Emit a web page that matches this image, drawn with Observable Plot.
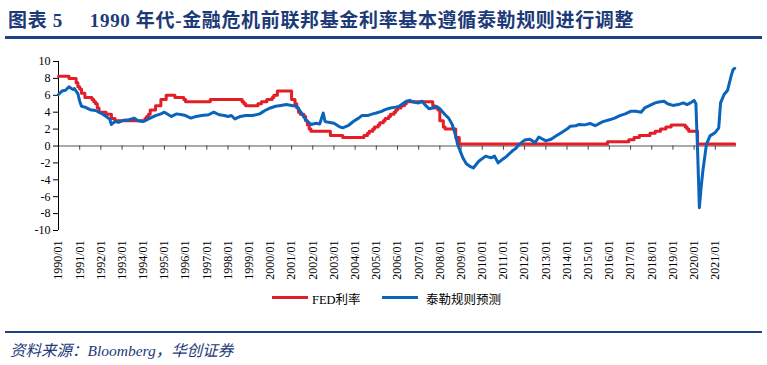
<!DOCTYPE html>
<html>
<head>
<meta charset="utf-8">
<script src="https://cdn.jsdelivr.net/npm/d3@7"></script>
<script src="https://cdn.jsdelivr.net/npm/@observablehq/plot@0.6"></script>
<style>
  body { margin: 0; background: #fff; }
  #wrap { position: relative; width: 767px; height: 365px; overflow: hidden; }
  #title { position: absolute; left: 8px; top: 5px; font-family: "Liberation Serif", "Noto Sans CJK SC", serif; font-weight: bold; font-size: 19px; color: #1c3a78; white-space: nowrap; letter-spacing: 0.65px; }
  #title .gap { display: inline-block; width: 27px; }
  .rule { position: absolute; left: 5px; right: 5px; background: #1f4283; }
  #chart { position: absolute; left: 0; top: 40px; }
  #legend { position: absolute; top: 289px; left: 0; width: 767px; height: 18px; font-family: "Liberation Serif", "Noto Sans CJK SC", serif; font-size: 12.5px; color: #000; }
  .sw { position: absolute; top: 7px; width: 36px; height: 3px; }
  .lt { position: absolute; top: 0; white-space: nowrap; }
  #source { position: absolute; left: 10px; top: 338px; font-family: "Liberation Serif", "Noto Sans CJK SC", serif; font-style: italic; font-size: 15.5px; color: #1c3a78; white-space: nowrap; }
</style>
</head>
<body>
<div id="wrap">
  <div id="title">图表 5<span class="gap"></span>1990 年代-金融危机前联邦基金利率基本遵循泰勒规则进行调整</div>
  <div class="rule" style="top:36px;height:3px"></div>
  <div id="chart"></div>
  <div id="legend"></div>
  <div class="rule" style="top:331px;height:2px"></div>
  <div id="source">资料来源：Bloomberg，华创证券</div>
</div>
<script>
// ---- Data ----
const seriesNames = ["FED利率", "泰勒规则预测"];
const seriesColors = ["#e41e26", "#0a64bc"];

// FED funds rate (step changes)
const fedDates = ["1990-01","1990-07","1990-11","1990-12","1991-01","1991-02","1991-04","1991-08","1991-09","1991-10","1991-11","1991-12","1992-04","1992-07","1992-09","1994-02","1994-03","1994-04","1994-05","1994-08","1994-11","1995-02","1995-07","1995-12","1996-01","1997-03","1998-09","1998-10","1998-11","1999-06","1999-08","1999-11","2000-02","2000-03","2000-05","2001-01","2001-03","2001-04","2001-05","2001-06","2001-08","2001-09","2001-10","2001-11","2001-12","2002-11","2003-06","2004-06","2004-08","2004-09","2004-11","2004-12","2005-02","2005-03","2005-05","2005-06","2005-08","2005-09","2005-11","2005-12","2006-01","2006-03","2006-05","2006-06","2007-09","2007-10","2007-12","2008-01","2008-03","2008-04","2008-10","2008-12","2015-12","2016-12","2017-03","2017-06","2017-12","2018-03","2018-06","2018-09","2018-12","2019-08","2019-09","2019-10","2020-03","2021-12"];
const fedValues = [8.25,8.0,7.5,7.0,6.75,6.25,5.75,5.5,5.25,5.0,4.5,4.0,3.75,3.25,3.0,3.25,3.5,3.75,4.25,4.75,5.5,6.0,5.75,5.5,5.25,5.5,5.25,5.0,4.75,5.0,5.25,5.5,5.75,6.0,6.5,5.5,5.0,4.5,4.0,3.75,3.5,3.0,2.5,2.0,1.75,1.25,1.0,1.25,1.5,1.75,2.0,2.25,2.5,2.75,3.0,3.25,3.5,3.75,4.0,4.25,4.5,4.75,5.0,5.25,4.75,4.5,4.25,3.0,2.25,2.0,1.0,0.25,0.5,0.75,1.0,1.25,1.5,1.75,2.0,2.25,2.5,2.25,2.0,1.75,0.25,0.25];

// Taylor rule estimate
const taylorDates = ["1990-01","1990-03","1990-05","1990-07","1990-09","1990-10","1990-12","1991-01","1991-02","1991-04","1991-07","1991-10","1992-01","1992-04","1992-06","1992-07","1992-09","1992-11","1993-02","1993-05","1993-08","1993-10","1994-01","1994-03","1994-05","1994-08","1994-11","1995-01","1995-05","1995-08","1995-11","1996-01","1996-04","1996-07","1996-10","1997-02","1997-05","1997-08","1997-11","1998-01","1998-03","1998-05","1998-08","1998-11","1999-03","1999-07","1999-10","2000-01","2000-04","2000-07","2000-10","2001-01","2001-04","2001-06","2001-09","2001-12","2002-03","2002-05","2002-07","2002-08","2002-10","2003-01","2003-04","2003-06","2003-09","2003-12","2004-03","2004-05","2004-08","2004-11","2005-01","2005-04","2005-06","2005-09","2005-12","2006-02","2006-04","2006-06","2006-08","2006-10","2007-01","2007-03","2007-05","2007-07","2007-09","2007-11","2008-01","2008-04","2008-06","2008-08","2008-10","2008-11","2009-02","2009-04","2009-06","2009-08","2009-11","2010-03","2010-06","2010-08","2010-10","2011-01","2011-03","2011-06","2011-08","2011-10","2012-01","2012-04","2012-07","2012-09","2013-01","2013-04","2013-07","2013-10","2014-01","2014-03","2014-06","2014-08","2014-11","2015-02","2015-05","2015-09","2016-01","2016-04","2016-07","2016-10","2017-01","2017-04","2017-07","2017-09","2017-12","2018-03","2018-05","2018-08","2018-10","2019-01","2019-04","2019-07","2019-09","2019-11","2020-01","2020-02","2020-03","2020-04","2020-05","2020-06","2020-08","2020-10","2021-01","2021-03","2021-04","2021-06","2021-08","2021-10","2021-11","2021-12"];
const taylorValues = [6.1,6.5,6.6,7.0,6.7,6.8,6.2,5.3,4.7,4.6,4.3,4.2,3.9,3.5,3.2,2.55,2.9,2.8,3.06,3.1,3.3,3.0,2.9,3.1,3.3,3.6,3.8,4.0,3.5,3.8,3.7,3.6,3.3,3.5,3.6,3.7,4.0,3.7,3.6,3.5,3.6,3.2,3.5,3.6,3.6,3.8,4.2,4.5,4.7,4.8,4.9,4.8,4.7,4.1,3.1,2.55,2.7,2.6,3.9,2.9,2.8,2.7,2.3,2.15,2.4,2.9,3.3,3.6,3.6,3.8,3.9,4.1,4.3,4.5,4.6,4.7,5.0,5.3,5.4,5.2,5.1,5.3,4.8,4.4,4.5,4.7,4.4,3.7,3.3,2.55,1.2,0.2,-1.4,-2.1,-2.4,-2.6,-1.8,-1.2,-1.4,-1.2,-2.0,-1.5,-1.2,-0.6,-0.3,0.2,0.7,0.8,0.4,1.06,0.6,0.8,1.2,1.6,2.0,2.35,2.4,2.55,2.5,2.67,2.4,2.86,3.1,3.3,3.6,3.8,4.1,4.1,4.0,4.5,4.8,5.1,5.2,5.3,5.0,4.8,4.9,5.1,4.9,5.1,5.4,5.0,-0.5,-7.3,-4.9,-2.9,0.2,1.2,1.6,2.15,5.1,6.1,6.6,8.3,9.0,9.2];

const yTicks = [-10,-8,-6,-4,-2,0,2,4,6,8,10];
const tickYears = d3.range(1990, 2022);

// ---- Build ----
const parse = d3.utcParse("%Y-%m");
const fed = fedDates.map((d, i) => ({date: parse(d), value: fedValues[i]}));
const taylor = taylorDates.map((d, i) => ({date: parse(d), value: taylorValues[i]}));
const years = tickYears.map(y => new Date(Date.UTC(y, 0, 1)));
const x0 = parse("1990-01"), x1 = parse("2022-01");

const chart = Plot.plot({
  width: 767,
  height: 250,
  marginLeft: 58,
  marginRight: 31,
  marginTop: 21,
  marginBottom: 60,
  style: {fontFamily: "'Liberation Serif', serif", fontSize: "12px", color: "#000", background: "transparent", overflow: "visible"},
  x: {type: "utc", domain: [x0, x1], ticks: years, tickFormat: d3.utcFormat("%Y/%m"), tickRotate: -90, tickSize: 0, tickPadding: 10, label: null},
  y: {domain: [-10, 10], ticks: yTicks, tickSize: 5, tickPadding: 3, tickFormat: d => String(d), label: null},
  marks: [
    Plot.ruleY([0], {x1: x0, x2: x1, stroke: "#8c8c8c", strokeWidth: 1.6}),
    Plot.ruleX(years, {x: d => d, y1: 0, y2: -0.5, stroke: "#444", strokeWidth: 1}),
    Plot.ruleX([x0], {y1: -10, y2: 10, stroke: "#000", strokeWidth: 1}),
    Plot.line(fed, {x: "date", y: "value", curve: "step-after", stroke: seriesColors[0], strokeWidth: 3}),
    Plot.line(taylor, {x: "date", y: "value", stroke: seriesColors[1], strokeWidth: 3})
  ]
});
document.getElementById("chart").appendChild(chart);

// ---- Legend ----
const legend = document.getElementById("legend");
const legendX = [272, 382];
seriesNames.forEach((name, i) => {
  const sw = document.createElement("div");
  sw.className = "sw";
  sw.style.left = legendX[i] + "px";
  sw.style.background = seriesColors[i];
  legend.appendChild(sw);
  const t = document.createElement("div");
  t.className = "lt";
  t.style.left = (legendX[i] + 40 + (i === 1 ? 4 : 0)) + "px";
  t.textContent = name;
  legend.appendChild(t);
});
</script>
</body>
</html>
